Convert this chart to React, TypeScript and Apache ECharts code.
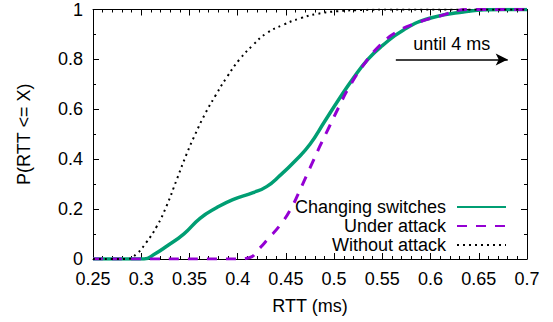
import React, { useEffect, useRef } from "react";
import * as echarts from "echarts";

const switchX = [0.25, 0.29, 0.303, 0.314, 0.326, 0.344, 0.361, 0.378, 0.395, 0.416, 0.43, 0.444, 0.46, 0.475, 0.49, 0.505, 0.52, 0.535, 0.55, 0.572, 0.599, 0.634, 0.675, 0.7];
const switchY = [0, 0, 0, 0.02, 0.05, 0.1, 0.163, 0.205, 0.238, 0.266, 0.29, 0.335, 0.395, 0.46, 0.55, 0.64, 0.725, 0.8, 0.855, 0.918, 0.965, 0.99, 1, 1];

const attackX = [0.25, 0.4, 0.412, 0.422, 0.432, 0.444, 0.455, 0.465, 0.475, 0.485, 0.495, 0.505, 0.515, 0.53, 0.548, 0.565, 0.585, 0.606, 0.641, 0.7];
const attackY = [0, 0, 0.005, 0.04, 0.083, 0.136, 0.2, 0.28, 0.365, 0.45, 0.53, 0.61, 0.685, 0.775, 0.858, 0.91, 0.945, 0.97, 1, 1];

const noAttackX = [0.25, 0.285, 0.295, 0.305, 0.316, 0.326, 0.337, 0.347, 0.356, 0.366, 0.377, 0.389, 0.402, 0.416, 0.43, 0.447, 0.465, 0.482, 0.503, 0.53, 0.56, 0.7];
const noAttackY = [0, 0, 0.02, 0.065, 0.13, 0.21, 0.32, 0.42, 0.5, 0.58, 0.655, 0.73, 0.8, 0.858, 0.905, 0.938, 0.965, 0.982, 0.993, 0.998, 1, 1];

const seriesNames = ["Changing switches", "Under attack", "Without attack"];
const arrowStart = [0.564, 0.8];
const arrowEnd = [0.68, 0.8];
const arrowLabel = "until 4 ms";

const FONT = "'Liberation Sans', Arial, Helvetica, sans-serif";

const zip = (xs: number[], ys: number[]) => xs.map((x, i) => [x, ys[i]]);

export default function App() {
  const ref = useRef<HTMLDivElement>(null);
  useEffect(() => {
    if (!ref.current) return;
    const chart = echarts.init(ref.current, null, { renderer: "svg" });
    const tickFmtX = (v: number) => String(+v.toFixed(2));
    const tickFmtY = (v: number) => String(+v.toFixed(1));
    const commonX = {
      type: "value",
      min: 0.25,
      max: 0.7,
      interval: 0.05,
      splitLine: { show: false },
      axisLine: { show: true, onZero: false, lineStyle: { color: "#000", width: 1 } },
      axisTick: { show: true, inside: true, length: 6, lineStyle: { color: "#000" } },
      minorTick: { show: true, splitNumber: 5, length: 3, lineStyle: { color: "#000" } },
    };
    const commonY = {
      type: "value",
      min: 0,
      max: 1,
      interval: 0.2,
      splitLine: { show: false },
      axisLine: { show: true, onZero: false, lineStyle: { color: "#000", width: 1 } },
      axisTick: { show: true, inside: true, length: 6, lineStyle: { color: "#000" } },
      minorTick: { show: true, splitNumber: 2, length: 3, lineStyle: { color: "#000" } },
    };
    chart.setOption({
      animation: false,
      grid: { left: 93, top: 9.5, right: 26, bottom: 63, containLabel: false },
      xAxis: [
        {
          ...commonX,
          position: "bottom",
          name: "RTT (ms)",
          nameLocation: "middle",
          nameGap: 38,
          nameTextStyle: { fontSize: 18, color: "#000", fontFamily: FONT },
          axisLabel: { fontSize: 18, lineHeight: 16, color: "#000", fontFamily: FONT, margin: 12, formatter: tickFmtX },
        },
        {
          ...commonX,
          position: "top",
          axisLabel: { show: false },
        },
      ],
      yAxis: [
        {
          ...commonY,
          position: "left",
          name: "P(RTT <= X)",
          nameLocation: "middle",
          nameGap: 60,
          nameTextStyle: { fontSize: 18, color: "#000", fontFamily: FONT },
          axisLabel: { fontSize: 18, lineHeight: 16, color: "#000", fontFamily: FONT, margin: 10, formatter: tickFmtY },
        },
        {
          ...commonY,
          position: "right",
          axisLabel: { show: false },
        },
      ],
      legend: {
        orient: "vertical",
        right: 46,
        top: 198,
        align: "right",
        itemWidth: 49,
        itemHeight: 14,
        itemGap: 1,
        padding: 0,
        selectedMode: false,
        itemStyle: { opacity: 0 },
        textStyle: { fontSize: 18, color: "#000", fontFamily: FONT, lineHeight: 17, padding: [0, 6, 0, 0] },
        data: seriesNames,
      },
      series: [
        {
          name: seriesNames[0],
          type: "line",
          data: zip(switchX, switchY),
          symbol: "none",
          smooth: 0.5,
          lineStyle: { color: "#009E73", width: 3.5 },
          itemStyle: { color: "#009E73" },
          z: 2,
          markLine: {
            silent: true,
            symbol: ["none", "arrow"],
            symbolSize: [9, 12],
            lineStyle: { color: "#000", width: 1.5, type: "solid" },
            label: {
              show: true,
              position: "insideMiddleTop",
              formatter: arrowLabel,
              fontSize: 18,
              color: "#000",
              fontFamily: FONT,
              distance: 6,
            },
            data: [[{ coord: arrowStart }, { coord: arrowEnd }]],
          },
        },
        {
          name: seriesNames[1],
          type: "line",
          data: zip(attackX, attackY),
          symbol: "none",
          smooth: 0.5,
          lineStyle: { color: "#9400D3", width: 3, type: [10, 9] },
          itemStyle: { color: "#9400D3" },
          z: 3,
        },
        {
          name: seriesNames[2],
          type: "line",
          data: zip(noAttackX, noAttackY),
          symbol: "none",
          smooth: 0.5,
          lineStyle: { color: "#000", width: 2, type: [2, 4] },
          itemStyle: { color: "#000" },
          z: 4,
        },
      ],
    });
    return () => chart.dispose();
  }, []);
  return <div ref={ref} style={{ width: 553, height: 322, position: "absolute", left: 0, top: 0 }} />;
}
